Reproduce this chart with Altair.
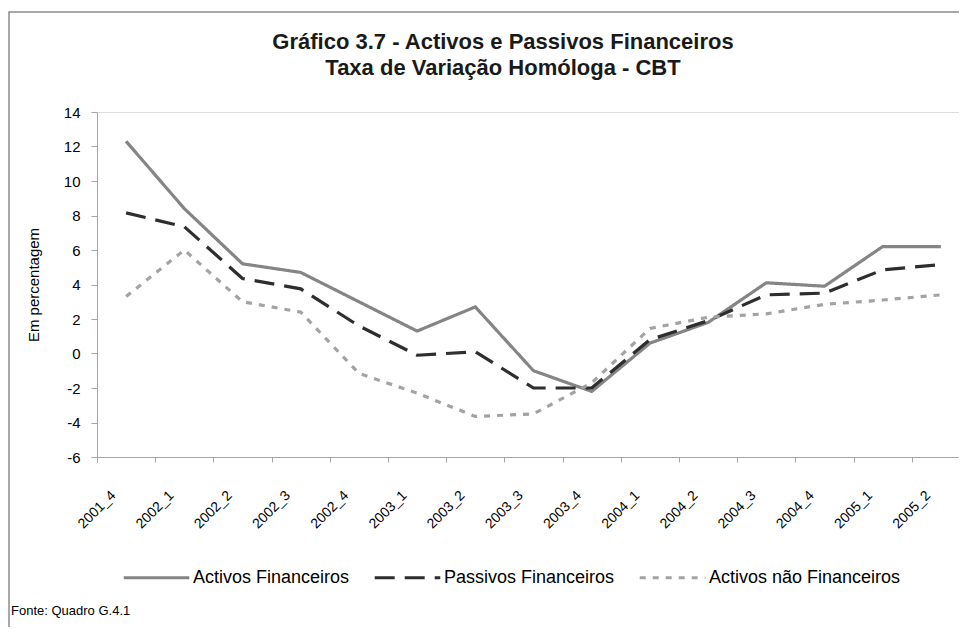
import altair as alt
import pandas as pd

quarters = ["2001_4", "2002_1", "2002_2", "2002_3", "2002_4", "2003_1", "2003_2", "2003_3",
            "2003_4", "2004_1", "2004_2", "2004_3", "2004_4", "2005_1", "2005_2"]
activos_fin = [12.3, 8.4, 5.2, 4.7, 3.0, 1.3, 2.7, -1.0, -2.2, 0.6, 1.8, 4.1, 3.9, 6.2, 6.2]
passivos_fin = [8.15, 7.35, 4.35, 3.75, 1.6, -0.1, 0.1, -2.0, -2.0, 0.8, 1.9, 3.4, 3.5, 4.85, 5.15]
activos_nao_fin = [3.3, 6.0, 3.0, 2.4, -1.15, -2.3, -3.65, -3.5, -1.7, 1.45, 2.1, 2.3, 2.85, 3.1, 3.4]
series_names = ["Activos Financeiros", "Passivos Financeiros", "Activos não Financeiros"]
y_ticks = [-6, -4, -2, 0, 2, 4, 6, 8, 10, 12, 14]

title_lines = ["Gráfico 3.7 - Activos e Passivos Financeiros", "Taxa de Variação Homóloga - CBT"]
y_title = "Em percentagem"
source_note = "Fonte: Quadro G.4.1"

rows = []
for name, vals in zip(series_names, [activos_fin, passivos_fin, activos_nao_fin]):
    for q, v in zip(quarters, vals):
        rows.append({"quarter": q, "value": v, "series": name})
df = pd.DataFrame(rows)

FONT = "Liberation Sans"
W, H = 873, 345

x_enc = alt.X("quarter:N", sort=quarters, title=None,
              scale=alt.Scale(type="band", paddingInner=0, paddingOuter=0, range=[0, W]),
              axis=alt.Axis(tickBand="extent", labelAngle=315, labelFont=FONT, labelFontSize=14,
                            labelColor="#000", domainColor="#a6a6a6", tickColor="#a6a6a6",
                            tickSize=5, labelPadding=31, labelOffset=-13,
                            labelAlign="right", labelBaseline="middle"))
y_enc = alt.Y("value:Q", title=y_title,
              scale=alt.Scale(domain=[-6, 14], nice=False, zero=False),
              axis=alt.Axis(values=y_ticks, grid=False, labelFont=FONT, labelFontSize=15,
                            labelExpr="'' + datum.value",
                            labelColor="#000", domainColor="#a6a6a6", tickColor="#a6a6a6",
                            tickSize=6, labelPadding=11, titleFont=FONT, titleFontSize=15,
                            titleFontWeight="normal", titleColor="#000", titlePadding=22))

leg = alt.Legend(title=None, orient="none", legendX=25, legendY=431,
                 direction="horizontal", symbolType="stroke",
                 symbolSize=4300, symbolStrokeWidth=3.2, labelLimit=0,
                 labelFont=FONT, labelFontSize=18, labelColor="#000",
                 columnPadding=18, symbolOffset=0, labelOffset=2)

lines = alt.Chart(df).mark_line(strokeCap="butt", strokeJoin="miter").encode(
    x=x_enc,
    y=y_enc,
    color=alt.Color("series:N", sort=series_names,
                    scale=alt.Scale(domain=series_names, range=["#858585", "#2e2e2e", "#a3a3a3"]),
                    legend=leg),
    strokeDash=alt.StrokeDash("series:N", sort=series_names,
                              scale=alt.Scale(domain=series_names, range=[[1, 0], [20, 10], [6, 7]]),
                              legend=leg),
    strokeWidth=alt.value(3.2),
)

frame_df = pd.DataFrame({"k": [0]})
frame = alt.Chart(frame_df).mark_rect(filled=False, stroke="#8c8c8c", strokeWidth=1.5).encode(
    x=alt.value(-88), x2=alt.value(1200), y=alt.value(-100), y2=alt.value(900)
)

title_df = pd.DataFrame({"t": title_lines, "yy": [-70, -44]})
titles = alt.Chart(title_df).mark_text(font=FONT, fontSize=22, fontWeight="bold", color="#1a1a1a",
                                       align="center", baseline="middle").encode(
    text="t:N", x=alt.value(406), y=alt.Y("yy:Q", scale=None)
)

note_df = pd.DataFrame({"t": [source_note]})
note = alt.Chart(note_df).mark_text(font=FONT, fontSize=13, color="#000", align="left",
                                    baseline="middle").encode(
    text="t:N", x=alt.value(-86), y=alt.value(499)
)

chart = alt.layer(frame, lines, titles, note).properties(
    width=862, height=H,
    autosize=alt.AutoSizeParams(type="none"),
    padding={"left": 89, "top": 104, "right": 0, "bottom": 170},
).configure_view(stroke=None).configure(background="white")

chart.save("out.html", embed_options={"renderer": "svg", "actions": False})
